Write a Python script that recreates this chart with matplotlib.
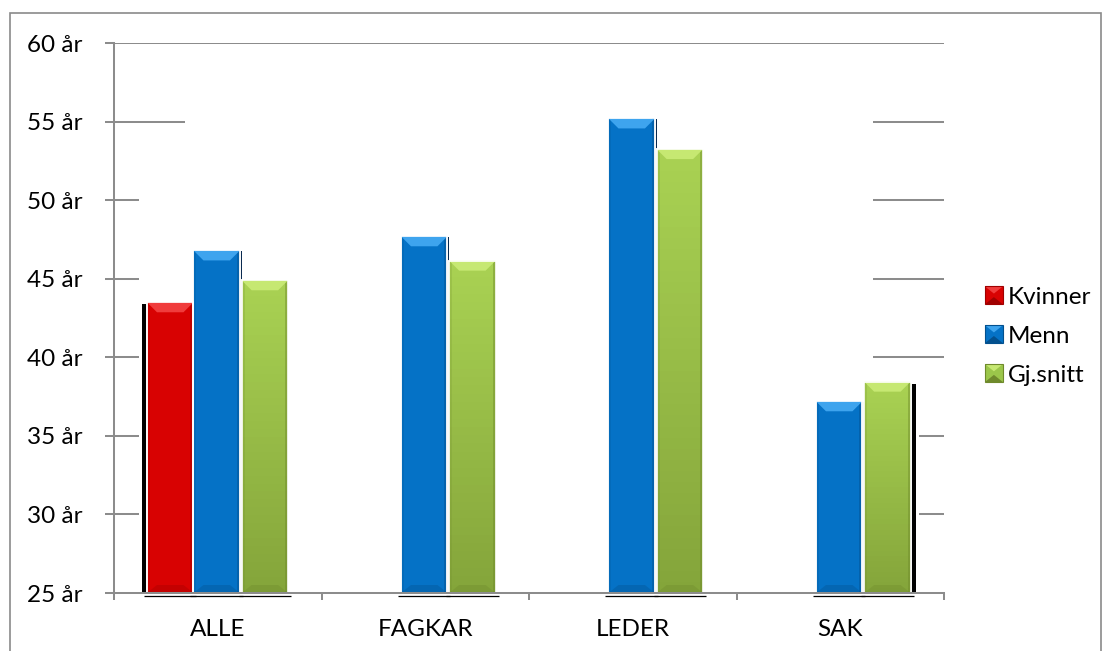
import numpy as np
import matplotlib
matplotlib.use('Agg')
import matplotlib.pyplot as plt
from matplotlib.patches import Polygon, Rectangle, Patch
from matplotlib.colors import to_rgb
from matplotlib.legend_handler import HandlerPatch

# ---------------- data ----------------
categories = ['ALLE', 'FAGKAR', 'LEDER', 'SAK']
series_names = ['Kvinner', 'Menn', 'Gj.snitt']
kvinner = [43.5, np.nan, np.nan, np.nan]
menn = [46.8, 47.7, 55.2, 37.2]
gjsnitt = [44.9, 46.15, 53.25, 38.45]
yticks = [25, 30, 35, 40, 45, 50, 55, 60]
ytick_labels = [f'{v} år' for v in yticks]

# ---------------- style ----------------
plt.rcParams['font.family'] = ['Lato', 'DejaVu Sans']
FS = 17.5
GRID = '#8c8c8c'
colors = ['#d80202', '#0572c6', '#9bc64a']
tops = ['#f03c3c', '#3ea4ee', '#c6e872']
dark = ['#a00000', '#03508e', '#6f8a2c']

W, H = 1103, 651
fig = plt.figure(figsize=(W / 100, H / 100), dpi=100)
fig.patches.append(Rectangle((10 / W, -0.05), (1101 - 10) / W, 1.05 - 13 / H,
                             transform=fig.transFigure, fill=False,
                             edgecolor='#8a8a8a', linewidth=1.2))

ax = fig.add_axes([114 / W, 1 - 593 / H, 830 / W, 550 / H])
ax.set_xlim(-0.5, 3.5)
ax.set_ylim(25, 60)
PX = 1 / 207.5          # data units per pixel (x)
PY = 35 / 550           # data units per pixel (y)

# gridline segments (partially hidden as in the reference)
lw_grid = 1.45
ax.hlines(60, -0.5, 3.5, color=GRID, lw=lw_grid, zorder=1)
ax.hlines(55, -0.5, -0.5 + 71 * PX, color=GRID, lw=lw_grid, zorder=1)
for v in [30, 35, 40, 45, 50]:
    ax.hlines(v, -0.5, -0.5 + 25 * PX, color=GRID, lw=lw_grid, zorder=1)
for v in [40, 45, 50, 55]:
    ax.hlines(v, 3.5 - 71 * PX, 3.5, color=GRID, lw=lw_grid, zorder=1)
for v in [30, 35]:
    ax.hlines(v, 3.5 - 25 * PX, 3.5, color=GRID, lw=lw_grid, zorder=1)

# ---------------- bars ----------------
x = np.arange(len(categories))
bw = 0.224
offsets = [-0.229, -0.005, 0.227]
all_series = [kvinner, menn, gjsnitt]
bar_containers = []
for i, vals in enumerate(all_series):
    bc = ax.bar(x + offsets[i], np.array(vals) - 25, bw, bottom=25,
                color=colors[i], edgecolor='white', linewidth=1.2, zorder=3)
    bar_containers.append(bc)


def bevel(rect, i):
    x0 = rect.get_x()
    w = rect.get_width()
    y0 = rect.get_y()
    h = rect.get_height()
    if not np.isfinite(h) or h <= 0:
        return
    x1 = x0 + w
    y1 = y0 + h
    bx = 10 * PX
    by = 10 * PY
    sx = 3 * PX
    # green vertical gradient
    if i == 2:
        n = 40
        ys = np.linspace(y0, y1, n + 1)
        c_bot = np.array(to_rgb('#84a43a'))
        c_top = np.array(to_rgb('#a9d253'))
        for k in range(n):
            t = (k + 0.5) / n
            c = c_bot * (1 - t) + c_top * t
            ax.add_patch(Rectangle((x0, ys[k]), w, ys[k + 1] - ys[k],
                                   facecolor=c, edgecolor='none', zorder=3.1))
    # side shading
    ax.add_patch(Rectangle((x0, y0), sx, h, facecolor=dark[i], alpha=0.2,
                           edgecolor='none', zorder=3.2))
    ax.add_patch(Rectangle((x1 - sx, y0), sx, h, facecolor=dark[i], alpha=0.45,
                           edgecolor='none', zorder=3.2))
    # top bevel
    ax.add_patch(Polygon([(x0, y1), (x1, y1), (x1 - bx, y1 - by), (x0 + bx, y1 - by)],
                         closed=True, facecolor=tops[i], edgecolor='none', zorder=3.3))
    # bottom bevel
    ax.add_patch(Polygon([(x0, y0), (x1, y0), (x1 - bx, y0 + by * 0.8), (x0 + bx, y0 + by * 0.8)],
                         closed=True, facecolor=dark[i], alpha=0.35, edgecolor='none', zorder=3.3))
    # white outline on top
    ax.add_patch(Rectangle((x0, y0), w, h, fill=False, edgecolor='white',
                           linewidth=1.2, zorder=3.4))
    # small dark line under the bar
    ax.hlines(y0 - 3 * PY, x0 - 3 * PX, x1 + 3 * PX, color='black', lw=0.9,
              zorder=2, clip_on=False)


for i, bc in enumerate(bar_containers):
    for rect in bc:
        bevel(rect, i)

# dark shadows at outer edges
r_first = bar_containers[0][0]
ax.add_patch(Rectangle((r_first.get_x() - 5 * PX, 25), 5 * PX, r_first.get_height() - 2 * PY,
                       facecolor='black', edgecolor='none', zorder=2.5))
r_last = bar_containers[2][3]
ax.add_patch(Rectangle((r_last.get_x() + r_last.get_width(), 25), 5 * PX,
                       r_last.get_height() - 2 * PY,
                       facecolor='black', edgecolor='none', zorder=2.5))
for rect in bar_containers[1]:
    ax.add_patch(Rectangle((rect.get_x() + rect.get_width(), 25), 2 * PX,
                           rect.get_height() - 1 * PY,
                           facecolor='#0a2a50', edgecolor='none', zorder=2.5))

# ---------------- axes ----------------
for s in ['top', 'right']:
    ax.spines[s].set_visible(False)
for s in ['left', 'bottom']:
    ax.spines[s].set_color(GRID)
    ax.spines[s].set_linewidth(lw_grid)
    ax.spines[s].set_zorder(4)

ax.set_yticks(yticks)
ax.set_yticklabels(ytick_labels)
ax.tick_params(axis='y', direction='out', length=6.5, width=lw_grid, color=GRID,
               pad=16, labelsize=FS, labelcolor='black')
ax.set_xticks(x)
ax.set_xticklabels(categories)
ax.set_xticks(np.arange(-0.5, 3.6, 1.0), minor=True)
ax.tick_params(axis='x', which='major', length=0, pad=19, labelsize=FS, labelcolor='black')
ax.tick_params(axis='x', which='minor', direction='out', length=5, width=lw_grid, color=GRID)


# ---------------- legend ----------------
class BevelHandler(HandlerPatch):
    def __init__(self, idx):
        super().__init__()
        self.idx = idx

    def create_artists(self, legend, orig_handle, xdescent, ydescent, width, height, fontsize, trans):
        i = self.idx
        s = min(width, height)
        x0, y0 = -xdescent, -ydescent + (height - s) / 2
        arts = [Rectangle((x0, y0), s, s, facecolor=colors[i], edgecolor='none', transform=trans)]
        b = s * 0.4
        arts.append(Polygon([(x0, y0 + s), (x0 + s, y0 + s), (x0 + s / 2, y0 + s - b)],
                            closed=True, facecolor=tops[i], edgecolor='none', transform=trans))
        arts.append(Polygon([(x0, y0), (x0 + s, y0), (x0 + s / 2, y0 + b)],
                            closed=True, facecolor=dark[i], edgecolor='none', transform=trans))
        arts.append(Rectangle((x0, y0), s, s, fill=False, edgecolor=dark[i], linewidth=0.8,
                              transform=trans))
        return arts


handles = [Patch(facecolor=c) for c in colors]
leg = fig.legend(handles, series_names, loc='center left',
                 bbox_to_anchor=(985 / W, 1 - 336 / H), frameon=False,
                 fontsize=FS, handlelength=0.75, handleheight=0.75,
                 handletextpad=0.2, labelspacing=0.72, borderpad=0, borderaxespad=0,
                 handler_map={handles[k]: BevelHandler(k) for k in range(3)})

fig.savefig('out.png', dpi=100)
